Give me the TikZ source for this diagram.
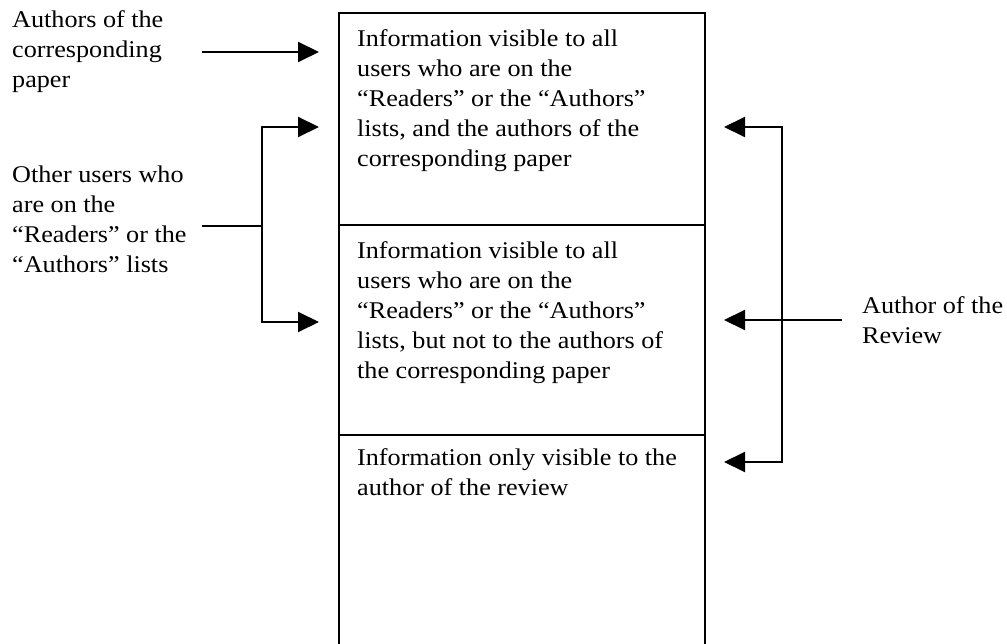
\documentclass[tikz,border=0pt]{standalone}
\usepackage{fontspec}
\setmainfont{Liberation Serif}[FakeStretch=1.09]
\usetikzlibrary{arrows.meta}

\tikzset{
  rule/.style={line width=2pt, line cap=rect},
  pointer/.style={line width=2pt, -{Triangle[length=21pt,width=20pt]}},
  label/.style={anchor=base west, inner sep=0pt, font=\fontsize{24}{30}\selectfont},
}
\newcommand{\lines}[1]{\begin{tabular}[t]{@{}l@{}}#1\end{tabular}}

\begin{document}
\begin{tikzpicture}[x=1pt, y=-1pt]
  \clip (0,0) rectangle (1007,644);
  \fill[white] (0,0) rectangle (1007,644);

  % stacked visibility sections
  \node[rule, draw, minimum width=366pt, minimum height=212pt, anchor=north west, inner sep=0pt] (sec1) at (338,12) {};
  \node[rule, draw, minimum width=366pt, minimum height=210pt, anchor=north west, inner sep=0pt] (sec2) at (338,224) {};
  \node[rule, draw, minimum width=366pt, minimum height=230pt, anchor=north west, inner sep=0pt] (sec3) at (338,434) {};

  \node[label] (txt1) at (357,47) {\lines{Information visible to all\\users who are on the\\“Readers” or the “Authors”\\lists, and the authors of the\\corresponding paper}};
  \node[label] (txt2) at (357,259) {\lines{Information visible to all\\users who are on the\\“Readers” or the “Authors”\\lists, but not to the authors of\\the corresponding paper}};
  \node[label] (txt3) at (357,465) {\lines{Information only visible to the\\author of the review}};

  % user groups
  \node[label] (authors) at (12,28) {\lines{Authors of the\\corresponding\\paper}};
  \node[label] (others) at (12,183) {\lines{Other users who\\are on the\\“Readers” or the\\“Authors” lists}};
  \node[label] (reviewer) at (862,314) {\lines{Author of the\\Review}};

  % arrow anchor points
  \coordinate (a0) at (202,52);
  \coordinate (a1) at (319,52);
  \coordinate (b0) at (202,226);
  \coordinate (bj) at (262,226);
  \coordinate (b1) at (319,127);
  \coordinate (b2) at (319,322);
  \coordinate (c0) at (842,320);
  \coordinate (cj) at (782,320);
  \coordinate (c1) at (724,127);
  \coordinate (c2) at (724,320);
  \coordinate (c3) at (724,462);

  % authors of the paper -> first section
  \draw[pointer] (a0) -- (a1);

  % other readers/authors -> first and second sections
  \draw[line width=2pt] (b0) -- (bj);
  \draw[pointer] (bj) |- (b1);
  \draw[pointer] (bj) |- (b2);

  % author of the review -> all sections
  \draw[pointer] (c0) -- (c2);
  \draw[pointer] (cj) |- (c1);
  \draw[pointer] (cj) |- (c3);
\end{tikzpicture}
\end{document}
